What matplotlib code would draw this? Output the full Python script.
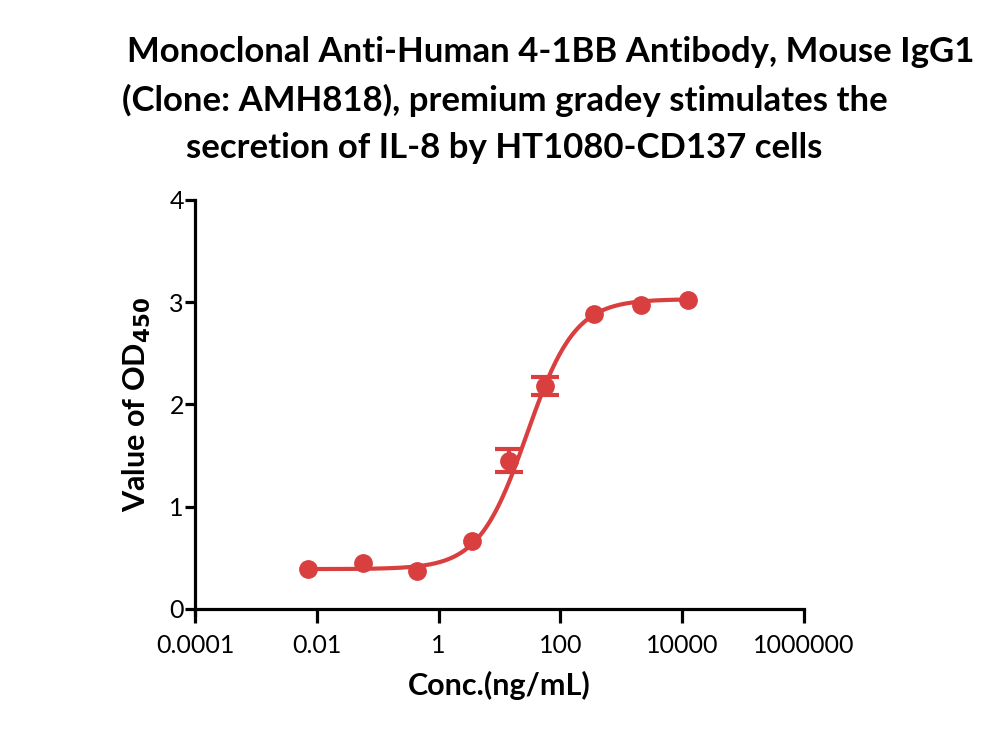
import numpy as np
import matplotlib
matplotlib.use('Agg')
import matplotlib.pyplot as plt

plt.rcParams['font.family'] = ['Lato', 'DejaVu Sans']

# concentrations (ng/mL) and OD450 values
conc = [0.0071, 0.057, 0.45, 3.6, 14.5, 56.0, 350.0, 2100.0, 12500.0]
od450 = [0.39, 0.45, 0.375, 0.665, 1.45, 2.18, 2.88, 2.97, 3.02]
od_err = [0.0, 0.0, 0.0, 0.0, 0.114, 0.09, 0.0, 0.0, 0.0]

# 4PL fit parameters
bottom = 0.39
top = 3.03
log_ec50 = 1.45
hill = 1.1

red = '#d83f3e'

fig = plt.figure(figsize=(10, 7.36), dpi=100)
ax = fig.add_axes([0.195, 0.1726, 0.609, 0.5557])

xfit = np.logspace(np.log10(conc[0]), np.log10(conc[-1]), 300)
yfit = bottom + (top - bottom) / (1 + 10 ** ((log_ec50 - np.log10(xfit)) * hill))
ax.plot(xfit, yfit, color=red, lw=3, zorder=2)

ax.plot(conc, od450, 'o', color=red, ms=12.5, zorder=3)
# error bars only where there is a spread
has_err = [i for i, e in enumerate(od_err) if e > 0]
ax.errorbar([conc[i] for i in has_err], [od450[i] for i in has_err],
            yerr=[od_err[i] for i in has_err], fmt='none', ecolor=red,
            capsize=10, capthick=3, elinewidth=3, zorder=3)

ax.set_xscale('log')
ax.set_xlim(1e-4, 1e6)
ax.set_ylim(0, 4)
ax.set_xticks([1e-4, 1e-2, 1, 1e2, 1e4, 1e6])
ax.set_xticklabels(['0.0001', '0.01', '1', '100', '10000', '1000000'])
ax.set_yticks([0, 1, 2, 3, 4])
ax.minorticks_off()

for s in ['top', 'right']:
    ax.spines[s].set_visible(False)
for s in ['left', 'bottom']:
    ax.spines[s].set_linewidth(2.3)
ax.spines['left'].set_bounds(-0.06, 4)
ax.tick_params(axis='both', width=2.3, labelsize=18)
ax.tick_params(axis='y', length=7, pad=1)
ax.tick_params(axis='x', length=10, pad=8)

ax.set_xlabel('Conc.(ng/mL)', fontsize=22, fontweight='bold', labelpad=10)
ax.set_ylabel('Value of OD$_{\\mathbf{450}}$', fontsize=22, fontweight='bold', labelpad=12)

title_lines = ['Monoclonal Anti-Human 4-1BB Antibody, Mouse IgG1',
               '(Clone: AMH818), premium gradey stimulates the',
               'secretion of IL-8 by HT1080-CD137 cells']
title_x = [0.551, 0.505, 0.504]
title_y = [1 - 52 / 736, 1 - 100 / 736, 1 - 148 / 736]
for t, x, y in zip(title_lines, title_x, title_y):
    fig.text(x, y, t, ha='center', va='center', fontsize=25, fontweight='bold')

fig.savefig('out.png', dpi=100)
